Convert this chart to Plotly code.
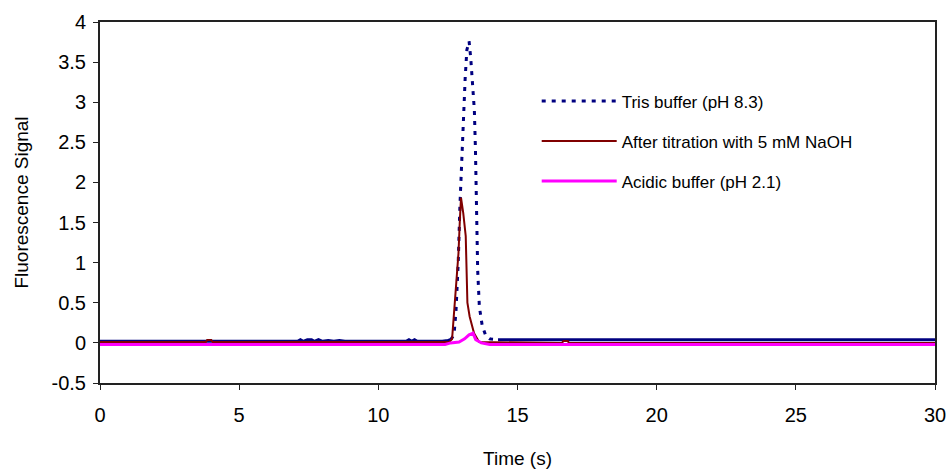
import plotly.graph_objects as go

# ---- data ----
# Tris buffer: flat baseline (left), peak region, flat baseline (right)
tris_left_t = [0, 7.1, 7.2, 7.3, 7.45, 7.6, 7.7, 7.85, 8.0, 8.2, 8.4, 8.6, 8.8, 9.0,
               11.0, 11.1, 11.2, 11.3, 11.4, 11.5, 12.3, 12.5, 12.6]
tris_left_y = [0.02, 0.02, 0.04, 0.02, 0.04, 0.04, 0.02, 0.04, 0.02, 0.03, 0.02, 0.03, 0.02, 0.02,
               0.02, 0.04, 0.02, 0.04, 0.02, 0.02, 0.02, 0.03, 0.04]
tris_peak_t = [12.6, 12.72, 12.79, 12.87, 12.93, 13.0, 13.06, 13.12, 13.18, 13.26, 13.32, 13.38,
               13.45, 13.49, 13.53, 13.57, 13.63, 13.73, 13.86, 14.0, 14.3]
tris_peak_y = [0.04, 0.1, 0.4, 1.0, 1.7, 2.3, 2.9, 3.3, 3.65, 3.76, 3.55, 3.2,
               2.9, 2.4, 1.6, 0.9, 0.45, 0.22, 0.09, 0.05, 0.04]
tris_right_t = [14.3, 30]
tris_right_y = [0.04, 0.04]

naoh_t = [0, 3.8, 3.85, 4.0, 4.05, 12.55, 12.65, 12.72, 12.81, 12.88, 12.93, 12.97,
          13.05, 13.14, 13.2, 13.28, 13.44, 13.62, 16.6, 16.65, 16.8, 16.85, 30]
naoh_y = [0.01, 0.01, 0.035, 0.035, 0.01, 0.01, 0.05, 0.37, 0.87, 1.12, 1.54, 1.81,
          1.62, 1.33, 0.5, 0.33, 0.12, 0.01, 0.0, 0.025, 0.025, 0.0, 0.0]

acid_t = [0, 12.4, 12.6, 12.9, 13.1, 13.26, 13.4, 13.5, 13.7, 14.0, 30]
acid_y = [-0.02, -0.02, 0.0, 0.01, 0.05, 0.1, 0.12, 0.04, 0.0, -0.02, -0.02]

series_names = ["Tris buffer (pH 8.3)", "After titration with 5 mM NaOH", "Acidic buffer (pH 2.1)"]

x_ticks = [0, 5, 10, 15, 20, 25, 30]
y_ticks = [-0.5, 0, 0.5, 1, 1.5, 2, 2.5, 3, 3.5, 4]
y_tick_text = ["-0.5", "0", "0.5", "1", "1.5", "2", "2.5", "3", "3.5", "4"]

FONT = "Liberation Sans, Arial, sans-serif"
NAVY, MAROON, MAGENTA = "#000080", "#800000", "#FF00FF"

fig = go.Figure()
fig.add_trace(go.Scatter(x=tris_peak_t, y=tris_peak_y, mode="lines", name=series_names[0],
                         legendgroup="a",
                         line=dict(color=NAVY, width=3, dash="4px,6px")))
fig.add_trace(go.Scatter(x=tris_left_t, y=tris_left_y, mode="lines", legendgroup="a",
                         showlegend=False, line=dict(color=NAVY, width=3)))
fig.add_trace(go.Scatter(x=tris_right_t, y=tris_right_y, mode="lines", legendgroup="a",
                         showlegend=False, line=dict(color=NAVY, width=3)))
fig.add_trace(go.Scatter(x=naoh_t, y=naoh_y, mode="lines", name=series_names[1],
                         legendgroup="b",
                         line=dict(color=MAROON, width=2)))
fig.add_trace(go.Scatter(x=acid_t, y=acid_y, mode="lines", name=series_names[2],
                         legendgroup="c",
                         line=dict(color=MAGENTA, width=3)))

axis_common = dict(showgrid=False, zeroline=False, showline=True, mirror=True,
                   linecolor="#222", linewidth=2, ticks="outside", ticklen=5,
                   tickcolor="#222", tickwidth=1, automargin=False,
                   tickfont=dict(family=FONT, size=20, color="black"))

fig.update_xaxes(range=[0, 30], tickvals=x_ticks, ticklabelstandoff=8,
                 title=dict(text="Time (s)", font=dict(family=FONT, size=19, color="black"), standoff=27),
                 **axis_common)
fig.update_yaxes(range=[-0.5, 4], tickvals=y_ticks, ticktext=y_tick_text, ticklabelstandoff=3,
                 title=dict(text="Fluorescence Signal", font=dict(family=FONT, size=19, color="black"), standoff=18),
                 **axis_common)

fig.update_layout(
    width=948, height=470,
    margin=dict(l=100, r=13, t=22, b=87),
    paper_bgcolor="white", plot_bgcolor="white",
    font=dict(family=FONT, size=17, color="black"),
    showlegend=True,
    legend=dict(x=0.523, y=0.83, xanchor="left", yanchor="top",
                bgcolor="rgba(0,0,0,0)", itemwidth=75, tracegroupgap=15,
                font=dict(family=FONT, size=17, color="black")),
)

fig.write_html("out.html")
